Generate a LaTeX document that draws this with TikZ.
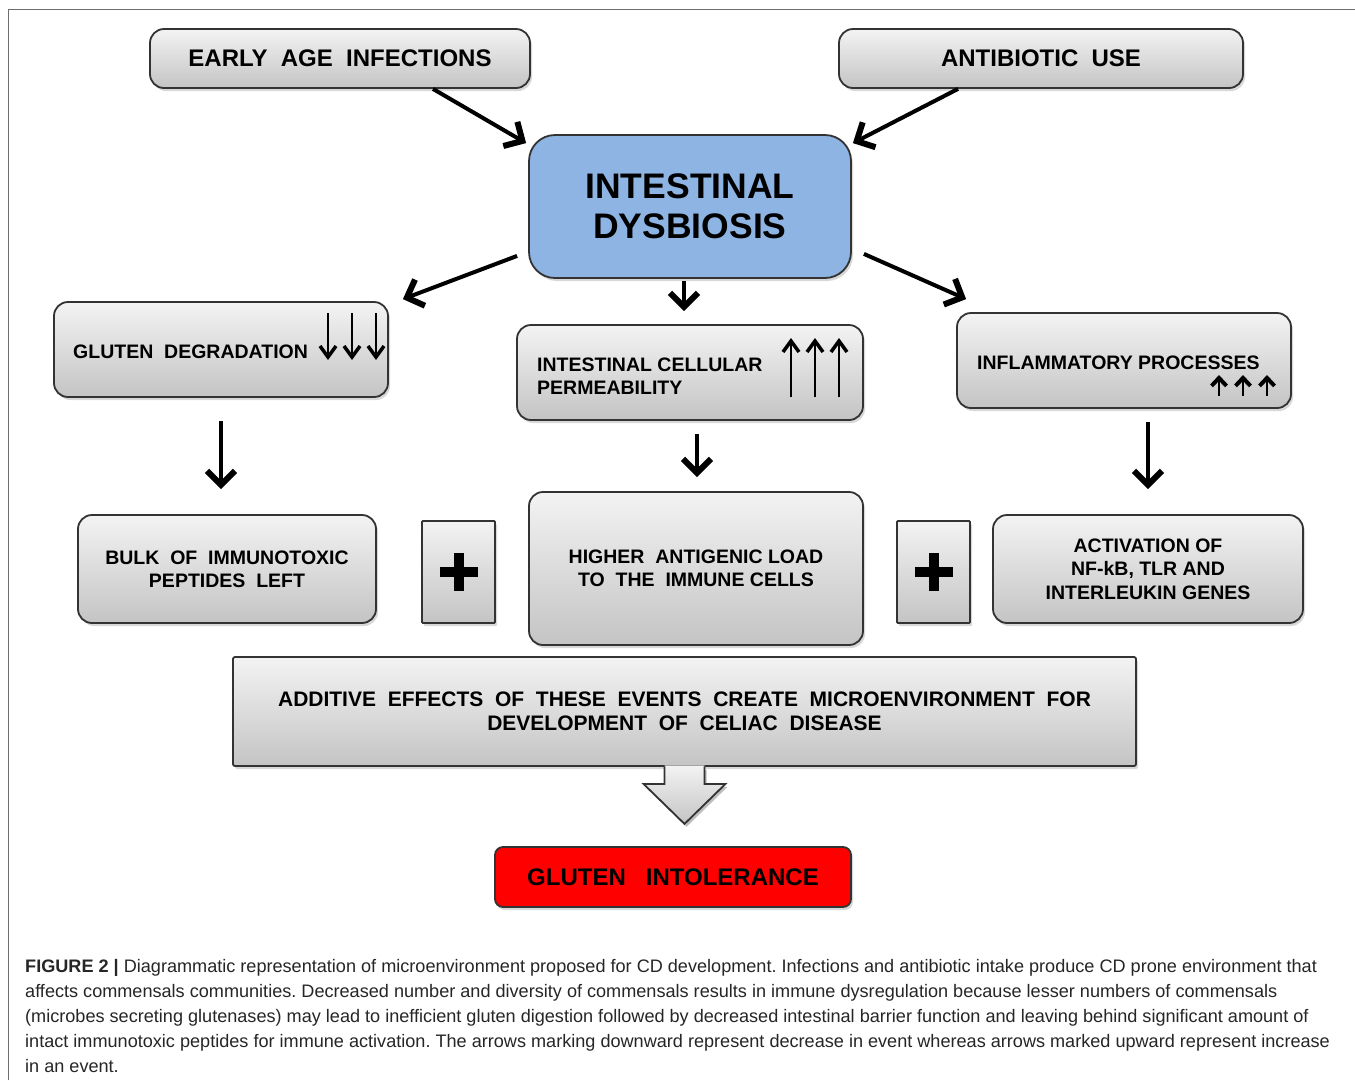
\documentclass[tikz,border=0pt]{standalone}
\usepackage{fontspec}
\setmainfont{Liberation Sans}
\usetikzlibrary{arrows.meta,shadows,calc}
\definecolor{bd}{HTML}{333333}
\definecolor{gtop}{HTML}{F3F3F3}
\definecolor{gbot}{HTML}{C4C4C4}
\definecolor{dysblue}{HTML}{8DB4E2}
\definecolor{framec}{HTML}{6E6E6E}
\definecolor{captxt}{HTML}{262626}
\definecolor{giRed}{HTML}{FF0000}
\frenchspacing
\begin{document}
\begin{tikzpicture}[x=1pt,y=-1pt,
  shadowed/.style={drop shadow={shadow xshift=2pt, shadow yshift=-3pt, opacity=0.3}},
  box/.style={draw=bd, line width=1.8pt, rounded corners=14pt, top color=gtop, bottom color=gbot,
    shadowed, inner sep=0pt, align=center, font=\bfseries\fontsize{19.5}{23}\selectfont},
  plusbox/.style={box, rounded corners=1pt, minimum width=73pt, minimum height=102pt},
  lbl/.style={inner sep=0pt, font=\bfseries\fontsize{19.5}{23}\selectfont},
  conn/.style={line width=4pt, -{Straight Barb[length=14pt,width=28pt,line width=6pt]}},
  tarrow/.style={line width=1.8pt, -{Straight Barb[length=11pt,width=16pt,line width=3.5pt]}},
  sarrow/.style={line width=2.6pt, -{Straight Barb[length=8pt,width=15pt,line width=4pt]}},
  plusline/.style={line width=10pt}
]
\useasboundingbox (0,0) rectangle (1355,1080);
\fill[white] (0,0) rectangle (1355,1080);
\draw[framec, line width=1pt] (8,1080) -- (8,9) -- (1355,9);

% top row
\node[box, minimum width=380pt, minimum height=59pt, font=\bfseries\fontsize{24}{28}\selectfont]
  (early) at (340,58.5) {EARLY~~AGE~~INFECTIONS};
\node[box, minimum width=404pt, minimum height=59pt, font=\bfseries\fontsize{24}{28}\selectfont]
  (anti) at (1041,58.5) {ANTIBIOTIC~~USE};

% central node
\node[box, draw=bd, rounded corners=26pt, top color=dysblue, bottom color=dysblue,
  minimum width=322pt, minimum height=143pt, font=\bfseries\fontsize{35.5}{40}\selectfont]
  (dys) at (690,206.5) {INTESTINAL\\DYSBIOSIS};

% second row
\node[box, minimum width=334pt, minimum height=95pt] (glu) at (221,349.5) {};
\node[lbl, anchor=base west] (glut) at (73,358) {GLUTEN~~DEGRADATION};
\node[box, minimum width=346pt, minimum height=95pt] (perm) at (690,372.5) {};
\node[lbl, anchor=west, align=left] (permt) at (537,376) {INTESTINAL CELLULAR\\PERMEABILITY};
\node[box, minimum width=334pt, minimum height=95pt] (infl) at (1124,360.5) {};
\node[lbl, anchor=base west] (inflt) at (977,369) {INFLAMMATORY PROCESSES};

\foreach \x in {328,352,376} \draw[tarrow] (\x,313) -- (\x,360);
\foreach \x in {791,815,839} \draw[tarrow] (\x,397) -- (\x,338);
\foreach \x in {1219,1243,1267} \draw[sarrow] (\x,396) -- (\x,375);

% third row
\node[box, minimum width=298pt, minimum height=108pt] (bulk) at (227,569)
  {BULK~~OF~~IMMUNOTOXIC\\PEPTIDES~~LEFT};
\node[plusbox] (plusA) at (458.5,572) {};
\node[box, minimum width=334pt, minimum height=153pt] (high) at (696,568.5)
  {HIGHER~~ANTIGENIC LOAD\\TO~~THE~~IMMUNE CELLS};
\node[plusbox] (plusB) at (933.5,572) {};
\node[box, minimum width=310pt, minimum height=108pt, font=\bfseries\fontsize{19.5}{23.5}\selectfont]
  (act) at (1148,569) {ACTIVATION OF\\NF-kB, TLR AND\\INTERLEUKIN GENES};

\draw[plusline] ($(plusA.center)+(0,-19)$) -- ($(plusA.center)+(0,19)$);
\draw[plusline] ($(plusA.center)+(-19,0)$) -- ($(plusA.center)+(19,0)$);
\draw[plusline] ($(plusB.center)+(0,-19)$) -- ($(plusB.center)+(0,19)$);
\draw[plusline] ($(plusB.center)+(-19,0)$) -- ($(plusB.center)+(19,0)$);

% additive box
\node[box, rounded corners=2pt, minimum width=903pt, minimum height=109pt,
  font=\bfseries\fontsize{21}{24}\selectfont]
  (add) at (684.5,711.5)
  {ADDITIVE~~EFFECTS~~OF~~THESE~~EVENTS~~CREATE~~MICROENVIRONMENT~~FOR\\
   DEVELOPMENT~~OF~~CELIAC~~DISEASE};

% block arrow
\fill[black, opacity=0.25] ($(add.south)+(-18,3)$) -- ($(add.south)+(-18,20)$) -- ($(add.south)+(-39,20)$)
  -- ($(add.south)+(2,60)$) -- ($(add.south)+(43,20)$) -- ($(add.south)+(22,20)$) -- ($(add.south)+(22,3)$) -- cycle;
\fill[top color=gtop, bottom color=gbot] ($(add.south)+(-20,-1.5)$) -- ($(add.south)+(-20,17)$) -- ($(add.south)+(-41,17)$)
  -- ($(add.south)+(0,57)$) -- ($(add.south)+(41,17)$) -- ($(add.south)+(20,17)$) -- ($(add.south)+(20,-1.5)$) -- cycle;
\draw[bd, line width=1.8pt] ($(add.south)+(-20,-0.5)$) -- ($(add.south)+(-20,17)$) -- ($(add.south)+(-41,17)$)
  -- ($(add.south)+(0,57)$) -- ($(add.south)+(41,17)$) -- ($(add.south)+(20,17)$) -- ($(add.south)+(20,-0.5)$);

% result
\node[box, rounded corners=8pt, top color=giRed, bottom color=giRed, minimum width=356pt, minimum height=60pt,
  font=\bfseries\fontsize{24}{28}\selectfont] (gi) at (673,877) {GLUTEN~~~INTOLERANCE};

% connectors
\draw[conn] ($(early.south)+(93,0)$) -- ($(dys.north west)+(-2,9)$);
\draw[conn] ($(anti.south)+(-83,0)$) -- ($(dys.north east)+(1,9)$);
\draw[conn] ($(dys.south west)+(-11,-23)$) -- ($(glu.north east)+(14,-2)$);
\draw[conn] ($(dys.south east)+(12,-25)$) -- ($(infl.north west)+(10,-13)$);
\draw[conn] ($(dys.south)+(-6,2)$) -- ($(perm.north)+(-6,-13)$);
\draw[conn] ($(glu.south)+(0,23)$) -- ($(bulk.north)+(-6,-25)$);
\draw[conn] ($(perm.south)+(7,13)$) -- ($(high.north)+(1,-14)$);
\draw[conn] ($(infl.south)+(24,13)$) -- ($(act.north)+(0,-25)$);

% caption
\node[anchor=north west, align=left, inner sep=0pt, text=captxt, font=\fontsize{18.1}{25}\selectfont] (cap) at (25,959.5)
  {\textbf{FIGURE 2 |} Diagrammatic representation of microenvironment proposed for CD development. Infections and antibiotic intake produce CD prone environment that\\
   affects commensals communities. Decreased number and diversity of commensals results in immune dysregulation because lesser numbers of commensals\\
   (microbes secreting glutenases) may lead to inefficient gluten digestion followed by decreased intestinal barrier function and leaving behind significant amount of\\
   intact immunotoxic peptides for immune activation. The arrows marking downward represent decrease in event whereas arrows marked upward represent increase\\
   in an event.};
\end{tikzpicture}
\end{document}
